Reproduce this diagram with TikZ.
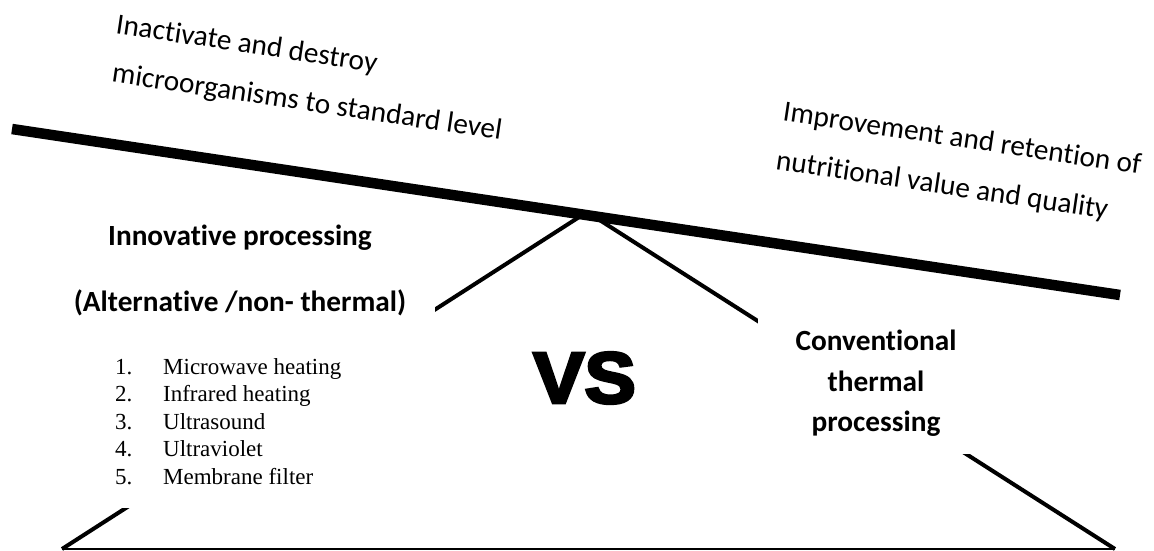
\documentclass[tikz,border=0pt]{standalone}
\usepackage{fontspec}
\setmainfont{Carlito}[Ligatures=NoCommon]
\newfontfamily\listfont{Liberation Serif}
\newfontfamily\vsfont{Liberation Sans}[BoldFeatures={FakeBold=4}]
\usetikzlibrary{positioning,calc}

\tikzset{
  beamline/.style={line width=10.5pt},
  legline/.style={line width=4pt},
  coverbox/.style={fill=white, inner sep=0pt},
  slanttext/.style={anchor=base west, inner sep=0pt, rotate=-8.5, font=\fontsize{29.3}{35}\selectfont},
  headtext/.style={anchor=base, inner sep=0pt, font=\fontsize{29.3}{35}\selectfont\bfseries},
  itemtext/.style={anchor=base west, inner sep=0pt, font=\listfont\fontsize{23}{27}\selectfont},
}

\begin{document}
\begin{tikzpicture}[x=1pt, y=-1pt]
  \useasboundingbox (0,0) rectangle (1154,550);
  % stand of the balance
  \coordinate (apex) at (587,212);
  \coordinate (footL) at (62,549);
  \coordinate (footR) at (1115,549);
  \draw[legline] (apex) -- (footL);
  \draw[legline] (apex) -- (footR);
  \draw[line width=2pt] (footL) -- (footR);
  % tilted beam
  \coordinate (beamL) at (12,129);
  \coordinate (beamR) at (1120,295);
  \draw[beamline] (beamL) -- (beamR);

  % white text panels over the stand
  \node[coverbox, minimum width=394.5pt, minimum height=293pt] (leftpanel) at (237.25,361.5) {};
  \node[coverbox, minimum width=242pt, minimum height=154pt] (rightpanel) at (879,377) {};

  % texts on the beam
  \node[slanttext] (inact1) at (115,33.3) {Inactivate and destroy};
  \node[slanttext] (inact2) at (111,81.7) {microorganisms to standard level};
  \node[slanttext] (improv1) at (782,120.7) {Improvement and retention of};
  \node[slanttext] (improv2) at (775,169.3) {nutritional value and quality};

  % left side
  \node[headtext] (innov) at (240,245.6) {Innovative processing};
  \node[headtext] (altern) at (240,311) {(Alternative /non- thermal)};
  \node[itemtext] (item1) at (115,374) {\makebox[48pt][l]{1.}Microwave heating};
  \node[itemtext] (item2) at (115,401.5) {\makebox[48pt][l]{2.}Infrared heating};
  \node[itemtext] (item3) at (115,429) {\makebox[48pt][l]{3.}Ultrasound};
  \node[itemtext] (item4) at (115,456.5) {\makebox[48pt][l]{4.}Ultraviolet};
  \node[itemtext] (item5) at (115,484) {\makebox[48pt][l]{5.}Membrane filter};

  \node[anchor=base, inner sep=0pt, font=\vsfont\bfseries\fontsize{72.6}{80}\selectfont] (vs) at (584.5,403) {\scalebox{1.06}[1]{VS}};

  % right side
  \node[headtext] (conv1) at (876,350.7) {Conventional};
  \node[headtext] (conv2) at (876,391.7) {thermal};
  \node[headtext] (conv3) at (876,431.7) {processing};
\end{tikzpicture}
\end{document}
